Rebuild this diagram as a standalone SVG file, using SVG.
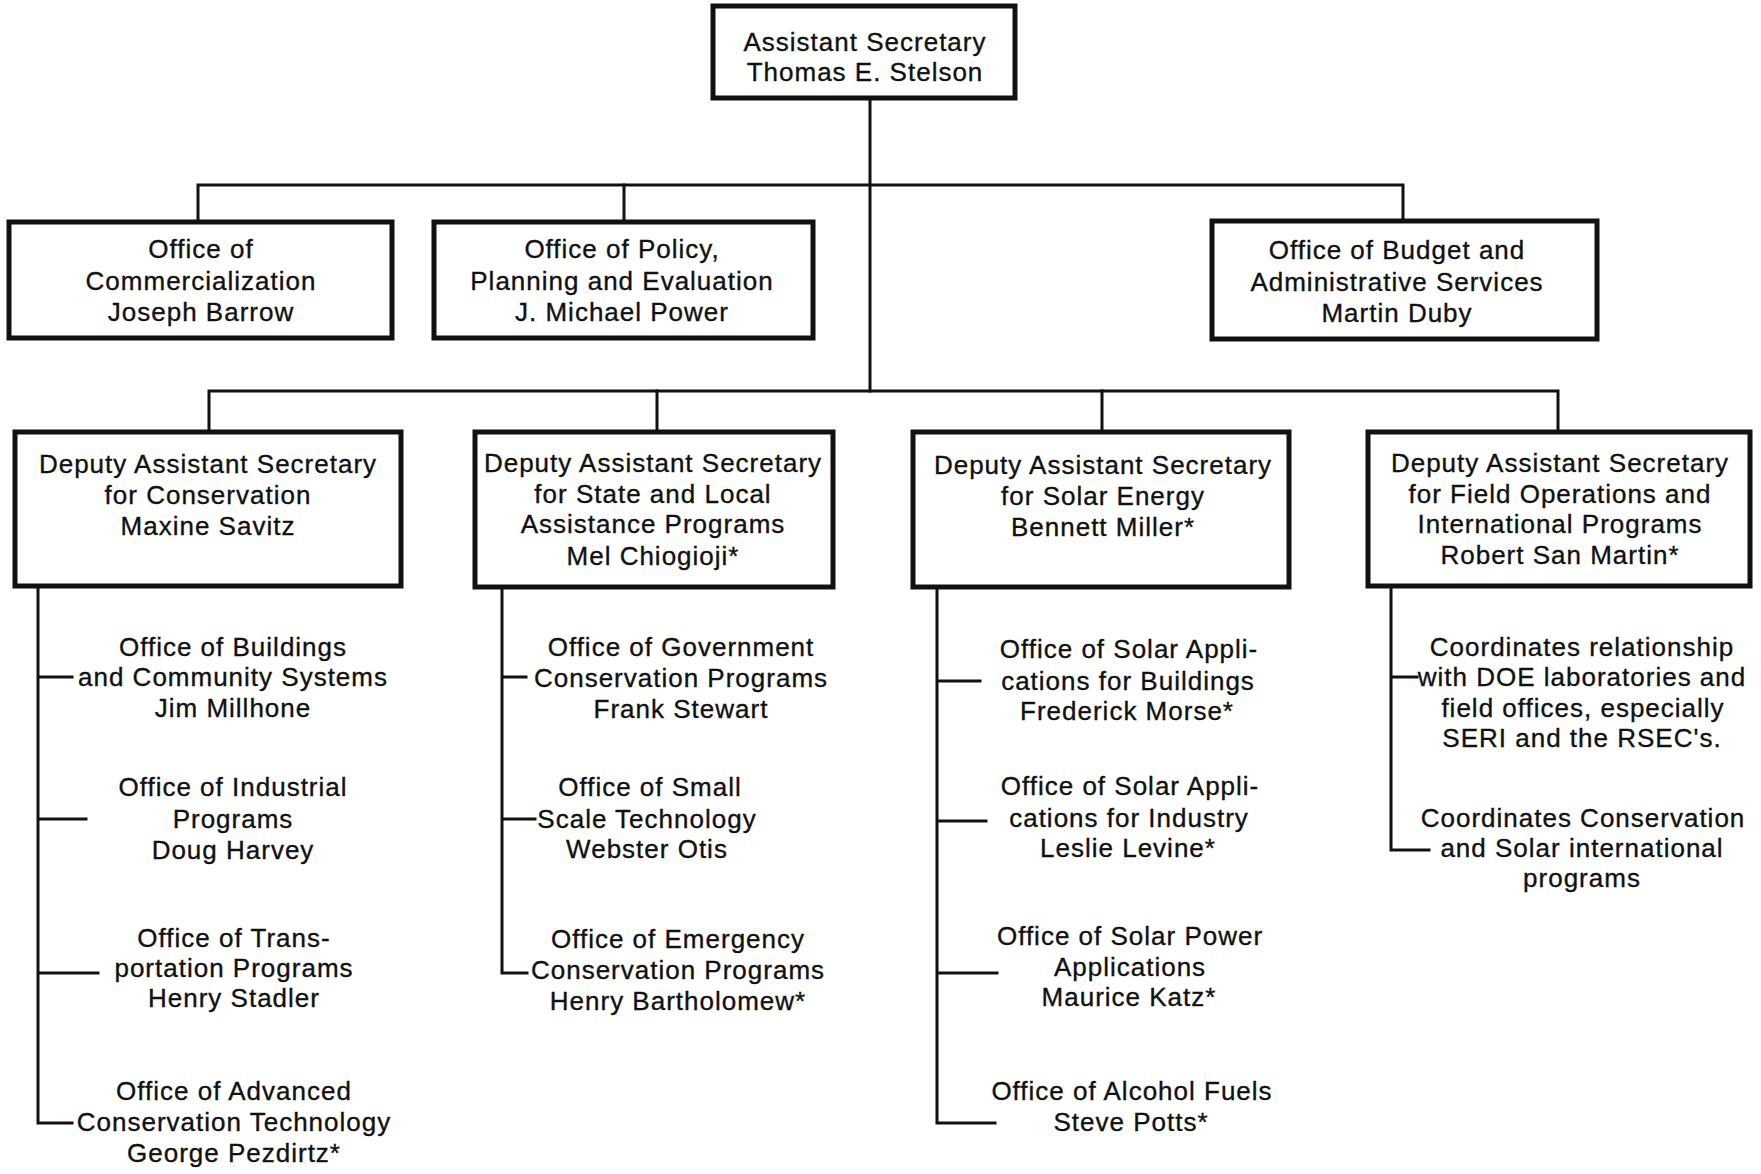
<svg xmlns="http://www.w3.org/2000/svg" width="1761" height="1174" viewBox="0 0 1761 1174">
<style>
.box{fill:#fff;stroke:#111;stroke-width:5}
.ln{stroke:#111;stroke-width:3;fill:none;stroke-linecap:square}
text{font-family:"Liberation Sans",Arial,sans-serif;font-size:26px;letter-spacing:1px;fill:#111;stroke:#111;stroke-width:0.35;text-anchor:middle}
</style>
<rect width="1761" height="1174" fill="#fff"/>
<g id="connectors" class="ln">
<path d="M870 98V391"/>
<path d="M198 222V185H1403V222"/>
<path d="M624 185V222"/>
<path d="M209 432V391H1558V432"/>
<path d="M657 391V432"/>
<path d="M1102 391V432"/>
<path d="M38 586V1123H72M38 677H72M38 819H86M38 973H98"/>
<path d="M502 587V973H527M502 677H526M502 819H535"/>
<path d="M937 587V1123H995M937 681H980M937 821H986M937 973H997"/>
<path d="M1391 586V850H1429M1391 677H1417"/>
</g>
<g id="n-top"><rect class="box" x="713" y="6" width="302" height="92"/>
<text x="865" y="51">Assistant Secretary</text><text x="865" y="81">Thomas E. Stelson</text></g>
<g id="n-comm"><rect class="box" x="9" y="222" width="383" height="116"/>
<text x="201" y="258">Office of</text><text x="201" y="290">Commercialization</text><text x="201" y="321">Joseph Barrow</text></g>
<g id="n-policy"><rect class="box" x="434" y="222" width="379" height="116"/>
<text x="622" y="258">Office of Policy,</text><text x="622" y="290">Planning and Evaluation</text><text x="622" y="321">J. Michael Power</text></g>
<g id="n-budget"><rect class="box" x="1212" y="221" width="385" height="118"/>
<text x="1397" y="259">Office of Budget and</text><text x="1397" y="291">Administrative Services</text><text x="1397" y="322">Martin Duby</text></g>
<g id="n-cons"><rect class="box" x="15" y="432" width="386" height="154"/>
<text x="208" y="473">Deputy Assistant Secretary</text><text x="208" y="504">for Conservation</text><text x="208" y="535">Maxine Savitz</text></g>
<g id="n-state"><rect class="box" x="475" y="432" width="358" height="155"/>
<text x="653" y="472">Deputy Assistant Secretary</text><text x="653" y="503">for State and Local</text><text x="653" y="533">Assistance Programs</text><text x="653" y="565">Mel Chiogioji*</text></g>
<g id="n-solar"><rect class="box" x="913" y="432" width="376" height="155"/>
<text x="1103" y="474">Deputy Assistant Secretary</text><text x="1103" y="505">for Solar Energy</text><text x="1103" y="536">Bennett Miller*</text></g>
<g id="n-field"><rect class="box" x="1368" y="432" width="382" height="154"/>
<text x="1560" y="472">Deputy Assistant Secretary</text><text x="1560" y="503">for Field Operations and</text><text x="1560" y="533">International Programs</text><text x="1560" y="564">Robert San Martin*</text></g>
<g id="n-buildings"><text x="233" y="656">Office of Buildings</text><text x="233" y="686">and Community Systems</text><text x="233" y="717">Jim Millhone</text></g>
<g id="n-industrial"><text x="233" y="796">Office of Industrial</text><text x="233" y="828">Programs</text><text x="233" y="859">Doug Harvey</text></g>
<g id="n-transport"><text x="234" y="947">Office of Trans-</text><text x="234" y="977">portation Programs</text><text x="234" y="1007">Henry Stadler</text></g>
<g id="n-advanced"><text x="234" y="1100">Office of Advanced</text><text x="234" y="1131">Conservation Technology</text><text x="234" y="1162">George Pezdirtz*</text></g>
<g id="n-gov"><text x="681" y="656">Office of Government</text><text x="681" y="687">Conservation Programs</text><text x="681" y="718">Frank Stewart</text></g>
<g id="n-small"><text x="650" y="796">Office of Small</text><text x="647" y="828">Scale Technology</text><text x="647" y="858">Webster Otis</text></g>
<g id="n-emerg"><text x="678" y="948">Office of Emergency</text><text x="678" y="979">Conservation Programs</text><text x="678" y="1010">Henry Bartholomew*</text></g>
<g id="n-sab"><text x="1129" y="658">Office of Solar Appli-</text><text x="1128" y="690">cations for Buildings</text><text x="1127" y="720">Frederick Morse*</text></g>
<g id="n-sai"><text x="1130" y="795">Office of Solar Appli-</text><text x="1129" y="827">cations for Industry</text><text x="1128" y="857">Leslie Levine*</text></g>
<g id="n-spa"><text x="1130" y="945">Office of Solar Power</text><text x="1130" y="976">Applications</text><text x="1129" y="1006">Maurice Katz*</text></g>
<g id="n-alc"><text x="1132" y="1100">Office of Alcohol Fuels</text><text x="1131" y="1131">Steve Potts*</text></g>
<g id="n-coord1"><text x="1582" y="656">Coordinates relationship</text><text x="1582" y="686">with DOE laboratories and</text><text x="1583" y="717">field offices, especially</text><text x="1582" y="747">SERI and the RSEC's.</text></g>
<g id="n-coord2"><text x="1583" y="827">Coordinates Conservation</text><text x="1582" y="857">and Solar international</text><text x="1582" y="887">programs</text></g>
</svg>
